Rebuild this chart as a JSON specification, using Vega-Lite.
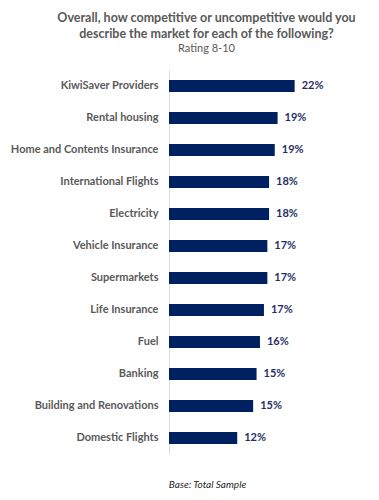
{
  "$schema": "https://vega.github.io/schema/vega-lite/v6.json",
  "autosize": {"type": "none"},
  "width": 199,
  "height": 384,
  "padding": {"left": 169, "top": 70, "right": 11, "bottom": 46},
  "background": "white",
  "title": {
    "text": ["Overall, how competitive or uncompetitive would you", "describe the market for each of the following?"],
    "subtitle": "Rating 8-10",
    "anchor": "middle",
    "dx": -62,
    "offset": 16,
    "font": "Lato",
    "fontSize": 12.5,
    "fontWeight": "bold",
    "color": "#595959",
    "lineHeight": 16,
    "subtitleFont": "Lato",
    "subtitleFontSize": 11,
    "subtitleColor": "#595959",
    "subtitlePadding": 3
  },
  "data": {
    "values": [
      {"category": "KiwiSaver Providers", "value": 0.221},
      {"category": "Rental housing", "value": 0.191},
      {"category": "Home and Contents Insurance", "value": 0.186},
      {"category": "International Flights", "value": 0.176},
      {"category": "Electricity", "value": 0.176},
      {"category": "Vehicle Insurance", "value": 0.173},
      {"category": "Supermarkets", "value": 0.173},
      {"category": "Life Insurance", "value": 0.167},
      {"category": "Fuel", "value": 0.160},
      {"category": "Banking", "value": 0.154},
      {"category": "Building and Renovations", "value": 0.148},
      {"category": "Domestic Flights", "value": 0.120}
    ]
  },
  "encoding": {
    "y": {
      "field": "category",
      "type": "nominal",
      "sort": null,
      "scale": {"paddingInner": 0.625, "paddingOuter": 0.3125},
      "axis": {
        "title": null,
        "ticks": false,
        "domain": true,
        "domainColor": "#d9d9d9",
        "labelFont": "Lato",
        "labelFontSize": 11,
        "labelFontWeight": "bold",
        "labelColor": "#595959",
        "labelPadding": 11,
        "labelLimit": 200
      }
    },
    "x": {
      "field": "value",
      "type": "quantitative",
      "scale": {"domain": [0, 0.35]},
      "axis": {
        "title": "Base: Total Sample",
        "titleFont": "Lato",
        "titleFontSize": 10,
        "titleFontStyle": "italic",
        "titleFontWeight": "normal",
        "titleColor": "#262626",
        "titleX": 38,
        "titleY": 25,
        "titleAnchor": "middle",
        "labels": false,
        "ticks": false,
        "domain": false,
        "grid": false
      }
    }
  },
  "layer": [
    {"mark": {"type": "bar", "color": "#002060"}},
    {
      "mark": {"type": "text", "align": "left", "baseline": "middle", "dx": 7, "font": "Lato", "fontSize": 11, "fontWeight": "bold", "color": "#1f3068"},
      "encoding": {"text": {"field": "value", "type": "quantitative", "format": ".0%"}}
    }
  ],
  "config": {"view": {"stroke": null}}
}
